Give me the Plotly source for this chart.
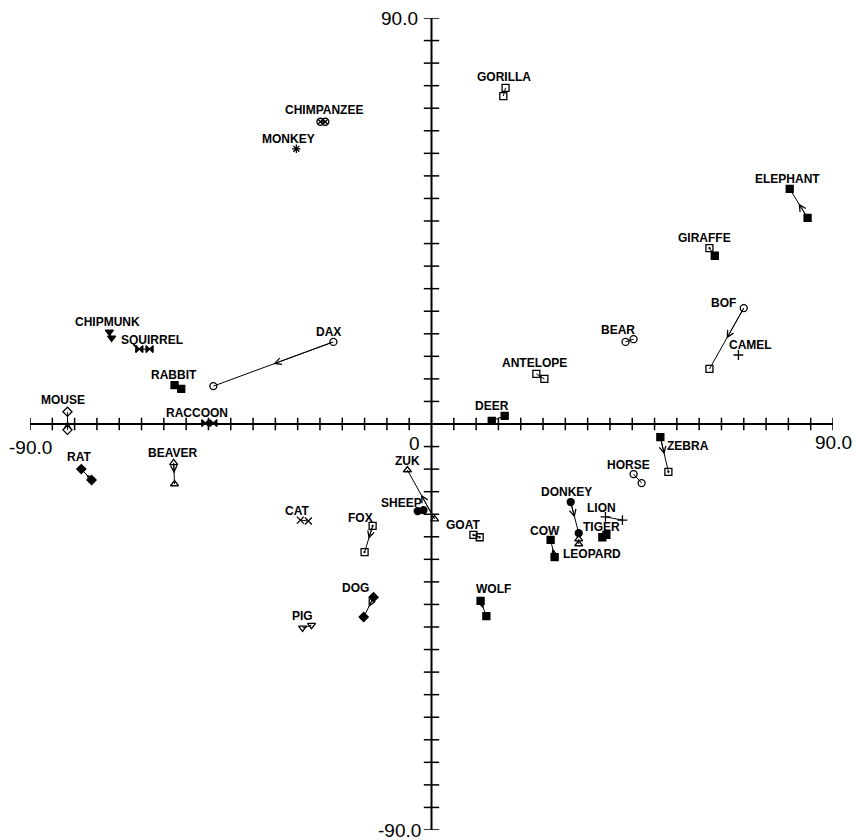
import plotly.graph_objects as go

# ---- data (MDS configuration, two positions per item where present) ----
names = ["GORILLA", "CHIMPANZEE", "MONKEY", "ELEPHANT", "GIRAFFE", "BOF", "CAMEL",
         "BEAR", "ANTELOPE", "DEER", "DAX", "CHIPMUNK", "SQUIRREL", "RABBIT", "MOUSE",
         "RACCOON", "RAT", "BEAVER", "ZUK", "SHEEP", "GOAT", "CAT", "FOX", "DOG", "PIG",
         "WOLF", "COW", "DONKEY", "LEOPARD", "TIGER", "LION", "HORSE", "ZEBRA"]
x_a = [16.6, -24.9, -30.3, 80.3, 62.3, 70.0, 68.8, 43.5, 23.5, 13.5, -22.0, -72.2, -65.5,
       -57.6, -81.6, -50.7, -78.5, -57.8, -5.4, -3.1, 9.4, -29.4, -13.2, -13.0, -28.9,
       11.0, 26.7, 31.2, 33.0, 38.3, 39.0, 45.3, 51.3]
y_a = [74.5, 67.0, 61.0, 52.1, 39.0, 25.7, 15.3, 18.2, 11.1, 0.7, 18.2, 20.4, 16.6,
       8.6, 2.7, 0.2, -10.0, -8.6, -10.2, -19.3, -24.6, -21.3, -22.6, -38.4, -45.2,
       -39.2, -25.7, -17.3, -25.5, -25.1, -20.6, -11.1, -2.9]
x_b = [16.1, -23.8, None, 84.3, 63.5, 62.3, None, 45.3, 25.3, 16.4, -48.9, -71.7, -63.2,
       -56.1, -81.6, -48.9, -76.2, -57.6, 0.7, -1.8, 10.8, -27.6, -15.0, -15.2, -26.9,
       12.3, 27.6, 33.0, 33.0, 39.2, 42.8, 47.1, 53.1]
y_b = [72.7, 67.0, None, 45.7, 37.3, 12.2, None, 18.8, 10.0, 1.8, 8.4, 19.1, 16.6,
       7.8, -1.3, 0.2, -12.4, -13.3, -21.1, -19.1, -25.1, -21.5, -28.4, -42.8, -44.6,
       -42.6, -29.5, -24.2, -26.6, -24.6, -21.3, -13.1, -10.6]
# arrow direction: "AB" = from a to b, "BA" = from b to a, "" = none
arrows = ["", "", "", "BA", "", "AB", "", "", "", "", "AB", "", "", "", "BA",
          "", "BA", "AB", "BA", "", "", "", "AB", "AB", "", "AB", "BA", "AB", "",
          "", "", "", "AB"]
symbols_a = ["square-open", "circle-x-open", "asterisk-open", "square", "square-open-dot",
             "circle-open", "cross-thin-open", "circle-open", "square-open", "square",
             "circle-open", "triangle-down", "bowtie", "square", "diamond-open", "bowtie",
             "diamond", "triangle-up-open", "triangle-up-open", "circle", "square-open-dot",
             "x-thin-open", "square-open-dot", "diamond", "triangle-down-open", "square",
             "square", "circle", "triangle-up-open", "square", "cross-thin-open",
             "circle-open", "square"]
symbols_b = ["square-open", "circle-x-open", None, "square", "square", "square-open", None,
             "circle-open", "square-open", "square", "circle-open", "triangle-down",
             "bowtie", "square", "diamond-open", "bowtie", "diamond", "triangle-up-open",
             "triangle-up-open", "circle", "square-open-dot", "x-thin-open",
             "square-open-dot", "diamond", "triangle-down-open", "square", "square",
             "circle", "triangle-up-open", "square", "cross-thin-open", "circle-open",
             "square-open-dot"]

axis_ticks = list(range(-90, 91, 5))
y_axis_top = 90

# ---- label offsets (pixels, relative to point a) ----
label_off = {
    "GORILLA": (-2, -11), "CHIMPANZEE": (4, -12), "MONKEY": (-8, -10),
    "ELEPHANT": (-2, -10), "GIRAFFE": (-5, -10), "BOF": (-20, -5), "CAMEL": (12, -10),
    "BEAR": (-8, -12), "ANTELOPE": (-2, -11), "DEER": (0, -15), "DAX": (-5, -10),
    "CHIPMUNK": (-2, -10), "SQUIRREL": (13, -9), "RABBIT": (-1, -10), "MOUSE": (-4, -12),
    "RACCOON": (-8, -10), "RAT": (-2, -12), "BEAVER": (-1, -10), "ZUK": (0, -9),
    "SHEEP": (-16, -8), "GOAT": (-10, -10), "CAT": (-3, -9), "FOX": (-12, -8),
    "DOG": (-18, -9), "PIG": (0, -12), "WOLF": (13, -12), "COW": (-6, -9),
    "DONKEY": (-4, -10), "LEOPARD": (13, 15), "TIGER": (-1, -10), "LION": (-4, -9),
    "HORSE": (-5, -9), "ZEBRA": (28, 9),
}

fig = go.Figure()

# axes
fig.add_trace(go.Scatter(x=[-90, 90], y=[0, 0], mode="lines",
                         line=dict(color="black", width=2), hoverinfo="skip"))
fig.add_trace(go.Scatter(x=[0, 0], y=[-90, y_axis_top], mode="lines",
                         line=dict(color="black", width=2), hoverinfo="skip"))
xt = [t for t in axis_ticks if t != 0]
fig.add_trace(go.Scatter(x=xt, y=[0] * len(xt), mode="markers",
                         marker=dict(symbol="line-ns-open", size=9, color="black",
                                     line=dict(color="black", width=1.5)),
                         hoverinfo="skip"))
yt = [t for t in axis_ticks if t != 0 and t <= y_axis_top]
fig.add_trace(go.Scatter(x=[0] * len(yt), y=yt, mode="markers",
                         marker=dict(symbol="line-ew-open", size=11, color="black",
                                     line=dict(color="black", width=1.5)),
                         hoverinfo="skip"))

annotations = []
for i, n in enumerate(names):
    xs, ys, ss = [x_a[i]], [y_a[i]], [symbols_a[i]]
    if x_b[i] is not None:
        xs.append(x_b[i]); ys.append(y_b[i]); ss.append(symbols_b[i])
    fig.add_trace(go.Scatter(
        x=xs, y=ys, mode="lines+markers",
        line=dict(color="black", width=1),
        marker=dict(symbol=ss, size=7, color="black",
                    line=dict(color="black", width=1.3)),
        name=n, hoverinfo="name"))
    dx, dy = label_off[n]
    annotations.append(dict(x=x_a[i], y=y_a[i], xref="x", yref="y", text=n,
                            showarrow=False, xshift=dx, yshift=-dy,
                            font=dict(family="Liberation Sans", size=12, color="black",
                                      weight="bold")))
    if arrows[i]:
        if arrows[i] == "AB":
            sx, sy, ex, ey = x_a[i], y_a[i], x_b[i], y_b[i]
        else:
            sx, sy, ex, ey = x_b[i], y_b[i], x_a[i], y_a[i]
        mx, my = (sx + ex) / 2, (sy + ey) / 2
        annotations.append(dict(x=mx, y=my, ax=sx, ay=sy, xref="x", yref="y",
                                axref="x", ayref="y", text="", showarrow=True,
                                arrowhead=5, arrowsize=1.3, arrowwidth=1,
                                arrowcolor="black"))

axis_font = dict(family="Liberation Sans", size=19, color="black")
annotations += [
    dict(x=-90, y=0, xref="x", yref="y", text="-90.0", showarrow=False,
         yshift=-23, font=axis_font),
    dict(x=90, y=0, xref="x", yref="y", text="90.0", showarrow=False,
         yshift=-18, font=axis_font),
    dict(x=0, y=y_axis_top, xref="x", yref="y", text="90.0", showarrow=False,
         xanchor="right", xshift=-12, font=axis_font),
    dict(x=0, y=-90, xref="x", yref="y", text="-90.0", showarrow=False,
         xanchor="right", xshift=-9, font=axis_font),
    dict(x=0, y=-5, xref="x", yref="y", text="0", showarrow=False,
         xanchor="right", xshift=-10, yshift=3, font=axis_font),
]

fig.update_layout(
    width=856, height=840,
    margin=dict(l=30, r=23, t=18, b=10),
    paper_bgcolor="white", plot_bgcolor="white",
    showlegend=False,
    xaxis=dict(range=[-90, 90], visible=False, fixedrange=True),
    yaxis=dict(range=[-90, 90], visible=False, fixedrange=True),
    annotations=annotations,
)

fig.write_html(
    "out.html",
    config={"responsive": False, "displayModeBar": False},
    post_script="document.body.style.margin='0';document.body.style.overflow='hidden';",
)
